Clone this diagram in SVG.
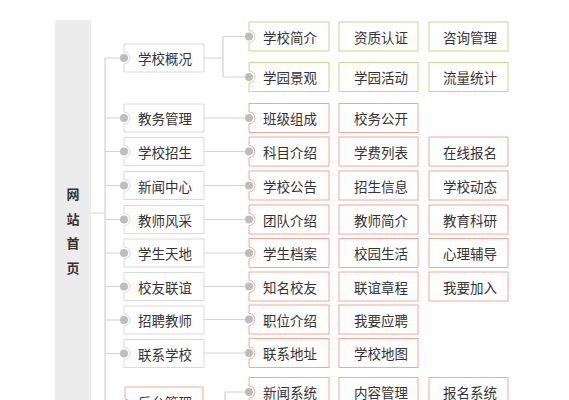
<svg xmlns="http://www.w3.org/2000/svg" width="569" height="400" viewBox="0 0 569 400">
<style>
text{font-family:"Noto Sans CJK SC","Noto Sans",sans-serif;font-size:13.5px;fill:#333;dominant-baseline:central;text-anchor:middle}
.root{font-weight:bold;font-size:13px}
.ln{stroke:#d3d3d3;stroke-width:1.2;fill:none}
.b2{fill:#fff;stroke:#d9d9d9;stroke-width:1}
.bg{fill:#fff;stroke:#c3d98f;stroke-width:1}
.br{fill:#fff;stroke:#f0a89a;stroke-width:1}
.dot{fill:#bdbdbd}
</style>
<rect x="0" y="0" width="569" height="400" fill="#fff"/>
<g id="root">
<rect x="55" y="20" width="36" height="390" fill="#ececec"/>
<text class="root" x="73" y="193">网</text>
<text class="root" x="73" y="218">站</text>
<text class="root" x="73" y="242">首</text>
<text class="root" x="73" y="267">页</text>
</g>
<g id="connectors">
<path class="ln" d="M91 213H105M105 58V400"/>
<path class="ln" d="M105 58H124M105 118H124M105 151.5H124M105 185.5H124M105 219.5H124M105 253H124M105 286.5H124M105 320H124M105 353.5H124M105 405H124"/>
<path class="ln" d="M204 58H223M223 36.5V77M223 36.5H249M223 77H249"/>
<path class="ln" d="M204 118H249M204 151.5H249M204 185.5H249M204 219.5H249M204 253H249M204 286.5H249M204 319.5H249M204 353H249"/>
<path class="ln" d="M203 405H225M225 392V410M225 392H249"/>
</g>
<g id="n-xxgk"><path class="b2" d="M124 44H204V72H124V64A6 6 0 0 0 124 52Z"/><circle class="dot" cx="124" cy="58" r="4"/><text x="165" y="58">学校概况</text></g>
<g id="n-jwgl"><path class="b2" d="M124 104H204V132H124V124A6 6 0 0 0 124 112Z"/><circle class="dot" cx="124" cy="118" r="4"/><text x="165" y="118">教务管理</text></g>
<g id="n-xxzs"><path class="b2" d="M124 137.5H204V165.5H124V157.5A6 6 0 0 0 124 145.5Z"/><circle class="dot" cx="124" cy="151.5" r="4"/><text x="165" y="151.5">学校招生</text></g>
<g id="n-xwzx"><path class="b2" d="M124 171.5H204V199.5H124V191.5A6 6 0 0 0 124 179.5Z"/><circle class="dot" cx="124" cy="185.5" r="4"/><text x="165" y="185.5">新闻中心</text></g>
<g id="n-jsfc"><path class="b2" d="M124 205.5H204V233.5H124V225.5A6 6 0 0 0 124 213.5Z"/><circle class="dot" cx="124" cy="219.5" r="4"/><text x="165" y="219.5">教师风采</text></g>
<g id="n-xstd"><path class="b2" d="M124 239H204V267H124V259A6 6 0 0 0 124 247Z"/><circle class="dot" cx="124" cy="253" r="4"/><text x="165" y="253">学生天地</text></g>
<g id="n-xylz"><path class="b2" d="M124 272.5H204V300.5H124V292.5A6 6 0 0 0 124 280.5Z"/><circle class="dot" cx="124" cy="286.5" r="4"/><text x="165" y="286.5">校友联谊</text></g>
<g id="n-zpjs"><path class="b2" d="M124 306H204V334H124V326A6 6 0 0 0 124 314Z"/><circle class="dot" cx="124" cy="320" r="4"/><text x="165" y="320">招聘教师</text></g>
<g id="n-lxxx"><path class="b2" d="M124 339.5H204V367.5H124V359.5A6 6 0 0 0 124 347.5Z"/><circle class="dot" cx="124" cy="353.5" r="4"/><text x="165" y="353.5">联系学校</text></g>
<g id="n-htgl"><path class="br" d="M125 387H203V423H125V411A6 6 0 0 0 125 399Z"/><circle class="dot" cx="125" cy="405" r="4"/><text x="165" y="402">后台管理</text></g>

<g id="l3-r1">
<path class="bg" d="M249 22H329V51H249V42.5A6 6 0 0 0 249 30.5Z"/><circle class="dot" cx="249" cy="36.5" r="4"/><text x="290" y="36.5">学校简介</text>
<rect class="bg" x="339" y="22" width="79" height="29"/><text x="381" y="36.5">资质认证</text>
<rect class="bg" x="429" y="22" width="79" height="29"/><text x="470" y="36.5">咨询管理</text>
</g>
<g id="l3-r2">
<path class="bg" d="M249 62.5H329V91.5H249V83A6 6 0 0 0 249 71Z"/><circle class="dot" cx="249" cy="77" r="4"/><text x="290" y="77">学园景观</text>
<rect class="bg" x="339" y="62.5" width="79" height="29"/><text x="381" y="77">学园活动</text>
<rect class="bg" x="429" y="62.5" width="79" height="29"/><text x="470" y="77">流量统计</text>
</g>
<g id="l3-r3">
<path class="br" d="M249 103.5H329V132.5H249V124A6 6 0 0 0 249 112Z"/><circle class="dot" cx="249" cy="118" r="4"/><text x="290" y="118">班级组成</text>
<rect class="br" x="339" y="103.5" width="79" height="29"/><text x="381" y="118">校务公开</text>
</g>
<g id="l3-r4">
<path class="br" d="M249 137H329V166H249V157.5A6 6 0 0 0 249 145.5Z"/><circle class="dot" cx="249" cy="151.5" r="4"/><text x="290" y="151.5">科目介绍</text>
<rect class="br" x="339" y="137" width="79" height="29"/><text x="381" y="151.5">学费列表</text>
<rect class="br" x="429" y="137" width="79" height="29"/><text x="470" y="151.5">在线报名</text>
</g>
<g id="l3-r5">
<path class="br" d="M249 171H329V200H249V191.5A6 6 0 0 0 249 179.5Z"/><circle class="dot" cx="249" cy="185.5" r="4"/><text x="290" y="185.5">学校公告</text>
<rect class="br" x="339" y="171" width="79" height="29"/><text x="381" y="185.5">招生信息</text>
<rect class="br" x="429" y="171" width="79" height="29"/><text x="470" y="185.5">学校动态</text>
</g>
<g id="l3-r6">
<path class="br" d="M249 205H329V234H249V225.5A6 6 0 0 0 249 213.5Z"/><circle class="dot" cx="249" cy="219.5" r="4"/><text x="290" y="219.5">团队介绍</text>
<rect class="br" x="339" y="205" width="79" height="29"/><text x="381" y="219.5">教师简介</text>
<rect class="br" x="429" y="205" width="79" height="29"/><text x="470" y="219.5">教育科研</text>
</g>
<g id="l3-r7">
<path class="br" d="M249 238.5H329V267.5H249V259A6 6 0 0 0 249 247Z"/><circle class="dot" cx="249" cy="253" r="4"/><text x="290" y="253">学生档案</text>
<rect class="br" x="339" y="238.5" width="79" height="29"/><text x="381" y="253">校园生活</text>
<rect class="br" x="429" y="238.5" width="79" height="29"/><text x="470" y="253">心理辅导</text>
</g>
<g id="l3-r8">
<path class="br" d="M249 272H329V301H249V292.5A6 6 0 0 0 249 280.5Z"/><circle class="dot" cx="249" cy="286.5" r="4"/><text x="290" y="286.5">知名校友</text>
<rect class="br" x="339" y="272" width="79" height="29"/><text x="381" y="286.5">联谊章程</text>
<rect class="br" x="429" y="272" width="79" height="29"/><text x="470" y="286.5">我要加入</text>
</g>
<g id="l3-r9">
<path class="br" d="M249 305H329V334H249V325.5A6 6 0 0 0 249 313.5Z"/><circle class="dot" cx="249" cy="319.5" r="4"/><text x="290" y="319.5">职位介绍</text>
<rect class="br" x="339" y="305" width="79" height="29"/><text x="381" y="319.5">我要应聘</text>
</g>
<g id="l3-r10">
<path class="br" d="M249 338.5H329V367.5H249V359A6 6 0 0 0 249 347Z"/><circle class="dot" cx="249" cy="353" r="4"/><text x="290" y="353">联系地址</text>
<rect class="br" x="339" y="338.5" width="79" height="29"/><text x="381" y="353">学校地图</text>
</g>
<g id="l3-r11">
<path class="br" d="M249 377.5H329V406.5H249V398A6 6 0 0 0 249 386Z"/><circle class="dot" cx="249" cy="392" r="4"/><text x="290" y="392">新闻系统</text>
<rect class="br" x="339" y="377.5" width="79" height="29"/><text x="381" y="392">内容管理</text>
<rect class="br" x="429" y="377.5" width="79" height="29"/><text x="470" y="392">报名系统</text>
</g>
</svg>
